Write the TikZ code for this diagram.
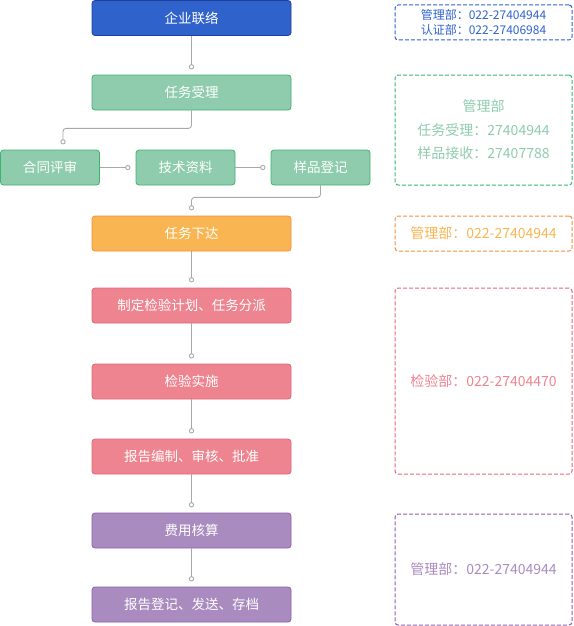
\documentclass[tikz,border=0pt]{standalone}
\usepackage{fontspec}
\setmainfont{Noto Sans CJK SC}
\usepackage{tikz}
\usetikzlibrary{arrows.meta}

\definecolor{lianluo}{HTML}{2F62CB}
\definecolor{lianluoB}{HTML}{1F3FA0}
\definecolor{shouli}{HTML}{8ECCAD}
\definecolor{shouliB}{HTML}{3DB46E}
\definecolor{xiada}{HTML}{F9B552}
\definecolor{xiadaB}{HTML}{F0903E}
\definecolor{jianyan}{HTML}{EE848F}
\definecolor{jianyanB}{HTML}{E2657A}
\definecolor{feiyong}{HTML}{A98BBF}
\definecolor{feiyongB}{HTML}{8E5FAF}
\definecolor{linkgray}{HTML}{A8A8A8}

\begin{document}
\begin{tikzpicture}[x=1pt, y=-1pt,
  box/.style={draw, rounded corners=3, line width=0.8pt, minimum height=35, inner sep=0,
    text=white, font=\fontsize{13.5}{16}\selectfont},
  wide/.style={box, minimum width=199},
  narrow/.style={box, minimum width=99},
  link/.style={draw=linkgray, line width=0.9pt, -{Circle[open,length=5.2pt]}, shorten >=5.2pt},
  note/.style={draw, dash pattern=on 4pt off 2pt, line width=1pt, rounded corners=3,
    minimum width=177, inner sep=0, align=center}]
\useasboundingbox (0,0) rectangle (573,626);

% main column
\node [wide, draw=lianluoB, fill=lianluo] (qiye) at (191.5, 18) {企业联络};
\node [wide, draw=shouliB, fill=shouli] (shouli) at (191.5, 92.5) {任务受理};
\node [narrow, draw=shouliB, fill=shouli] (hetong) at (50, 167.5) {合同评审};
\node [narrow, draw=shouliB, fill=shouli] (jishu) at (185.5, 167.5) {技术资料};
\node [narrow, draw=shouliB, fill=shouli] (yangpin) at (320.5, 167.5) {样品登记};
\node [wide, draw=xiadaB, fill=xiada] (xiada) at (191.5, 233.5) {任务下达};
\node [wide, draw=jianyanB, fill=jianyan] (jihua) at (191.5, 305.5) {制定检验计划、任务分派};
\node [wide, draw=jianyanB, fill=jianyan] (shishi) at (191.5, 381.5) {检验实施};
\node [wide, draw=jianyanB, fill=jianyan] (baogao) at (191.5, 456.5) {报告编制、审核、批准};
\node [wide, draw=feiyongB, fill=feiyong] (hesuan) at (191.5, 530.5) {费用核算};
\node [wide, draw=feiyongB, fill=feiyong] (cundang) at (191.5, 604.5) {报告登记、发送、存档};

% connectors
\draw [link] (qiye) -- (shouli);
\draw [link, rounded corners=3] (shouli.south) -- ++(0,18) -| ([xshift=13]hetong.north);
\draw [link] (hetong) -- (jishu);
\draw [link] (jishu) -- (yangpin);
\draw [link, rounded corners=3] (yangpin.south) -- ++(0,12) -| (xiada.north);
\draw [link] (xiada) -- (jihua);
\draw [link] (jihua) -- (shishi);
\draw [link] (shishi) -- (baogao);
\draw [link] (baogao) -- (hesuan);
\draw [link] (hesuan) -- (cundang);

% contacts
\node [note, draw=lianluo, text=lianluo, minimum height=35, font=\fontsize{12}{15}\selectfont]
  (lxqiye) at (483.5, 22.5) {管理部：022-27404944\\认证部：022-27406984};
\node [note, draw=shouliB, text=shouli, minimum height=110, font=\fontsize{14}{23.5}\selectfont]
  (lxshouli) at (483.5, 130) {管理部\\任务受理：27404944\\样品接收：27407788};
\node [note, draw=xiadaB, text=xiada, minimum height=35, font=\fontsize{14}{17}\selectfont]
  (lxxiada) at (483.5, 233.5) {管理部：022-27404944};
\node [note, draw=jianyanB, text=jianyan, minimum height=186, font=\fontsize{14}{17}\selectfont]
  (lxjianyan) at (483.5, 381) {检验部：022-27404470};
\node [note, draw=feiyongB, text=feiyong, minimum height=111, font=\fontsize{14}{17}\selectfont]
  (lxfeiyong) at (483.5, 569.5) {管理部：022-27404944};
\end{tikzpicture}
\end{document}
